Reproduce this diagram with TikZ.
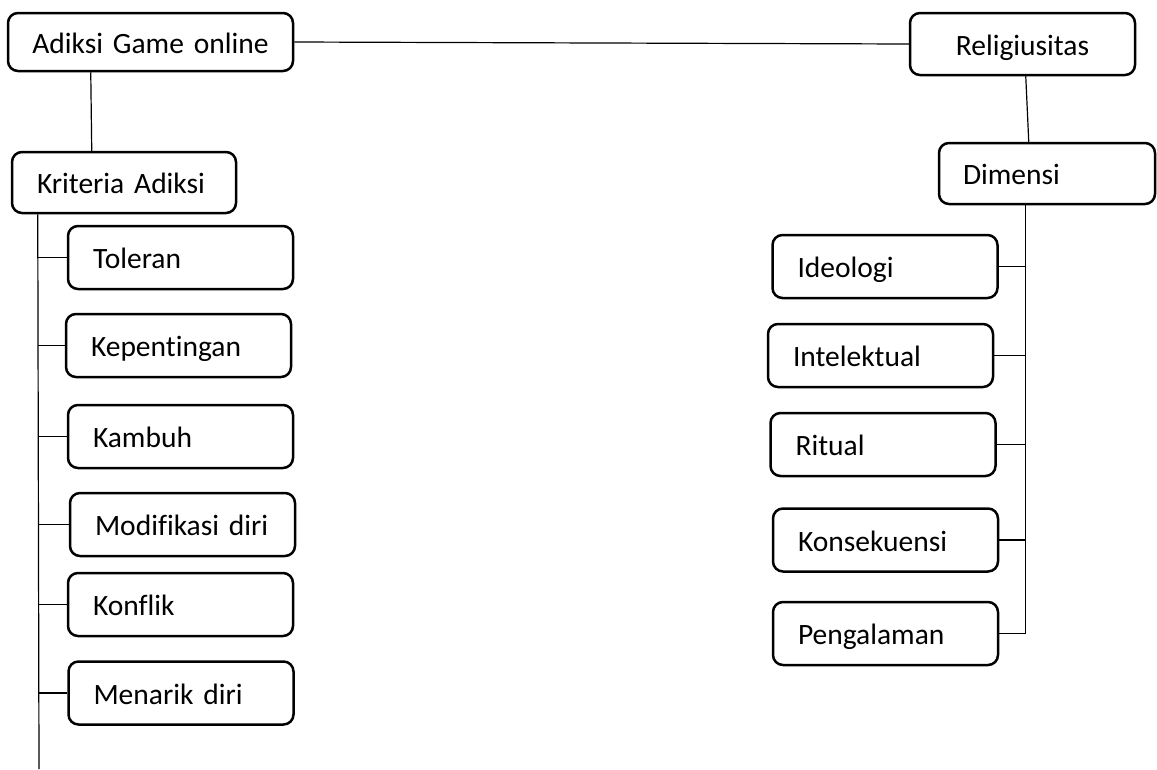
\documentclass[tikz,border=0pt]{standalone}
\usepackage{fontspec}
\setmainfont{Carlito}[Ligatures=NoCommon]
\usetikzlibrary{calc}
\begin{document}
\begin{tikzpicture}[x=1pt,y=-1pt,
  box/.style={draw, line width=2.5pt, rounded corners=10pt,
    font=\fontsize{29.5}{34}\selectfont, text height=22pt, text depth=0pt, inner ysep=0pt},
  leaf/.style={box, text width=175pt, inner xsep=25pt, align=left, minimum height=63pt},
  conn/.style={line width=1.2pt}]
\useasboundingbox (0,0) rectangle (1157,769);

% top nodes
\node[box, text width=265pt, inner xsep=10pt, align=center, minimum height=58pt] (adiksi) at (150.5,42) {Adiksi Game online};
\node[box, text width=205pt, inner xsep=10pt, align=center, minimum height=62pt] (relig) at (1022.5,44) {Religiusitas};
\node[box, text width=174pt, inner xsep=25pt, align=left, minimum height=61pt] (krit) at (124,182.5) {Kriteria Adiksi};
\node[box, text width=168pt, inner xsep=24pt, align=left, minimum height=61pt] (dim) at (1047,173.5) {Dimensi};

% left leaves
\node[leaf] (tol) at (180.5,257.5) {Toleran};
\node[leaf] (kep) at (178.5,345.5) {Kepentingan};
\node[leaf] (kam) at (180.5,436.5) {Kambuh};
\node[leaf] (mod) at (182.5,524.5) {Modifikasi diri};
\node[leaf] (kon) at (180.5,604.5) {Konflik};
\node[leaf] (men) at (181,693) {Menarik diri};

% right leaves
\node[leaf] (ide) at (885,266.5) {Ideologi};
\node[leaf] (int) at (880.5,355.5) {Intelektual};
\node[leaf] (rit) at (883,444.5) {Ritual};
\node[leaf] (kons) at (885.5,540) {Konsekuensi};
\node[leaf] (peng) at (885.5,633.5) {Pengalaman};

% connectors
\draw[conn] (adiksi.east) -- (relig.west);
\draw[conn] ($(adiksi.south west)+(84,0)$) -- ($(krit.north west)+(81,0)$);
\draw[conn] ($(relig.south west)+(117,0)$) -- ($(dim.north west)+(91,0)$);

\coordinate (ltop) at ($(krit.south west)+(27,0)$);
\coordinate (lbot) at (39,769);
\draw[conn] (ltop) -- (lbot);
\foreach \n in {tol,kep,kam,mod,kon,men}
  \draw[conn] (\n.west) -- (\n.west -| ltop);

\coordinate (rtop) at ($(dim.south west)+(88,0)$);
\draw[conn] (rtop) -- (peng.east -| rtop);
\foreach \n in {ide,int,rit,kons,peng}
  \draw[conn] (\n.east) -- (\n.east -| rtop);
\end{tikzpicture}
\end{document}
